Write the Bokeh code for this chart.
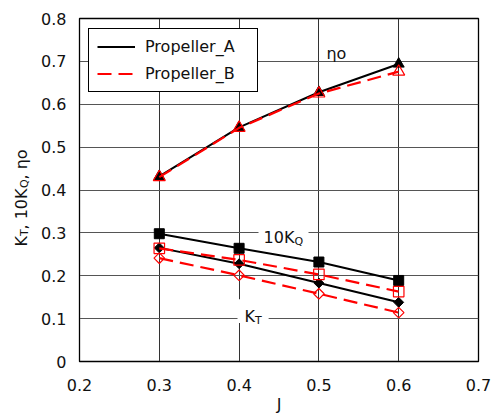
import math
from bokeh.plotting import figure
from bokeh.layouts import row
from bokeh.models import (Legend, LegendItem, Label, BoxAnnotation, FixedTicker)
from bokeh.embed import file_html
from bokeh.resources import INLINE

# ---- data ----
J = [0.3, 0.4, 0.5, 0.6]
eta_a = [0.432, 0.546, 0.628, 0.694]
eta_b = [0.430, 0.545, 0.625, 0.676]
kq10_a = [0.298, 0.264, 0.232, 0.189]
kq10_b = [0.264, 0.237, 0.203, 0.163]
kt_a = [0.265, 0.228, 0.183, 0.138]
kt_b = [0.241, 0.201, 0.158, 0.114]

x_ticks = [0.2, 0.3, 0.4, 0.5, 0.6, 0.7]
x_tick_labels = ["0.2", "0.3", "0.4", "0.5", "0.6", "0.7"]
y_ticks = [0, 0.1, 0.2, 0.3, 0.4, 0.5, 0.6, 0.7, 0.8]
y_tick_labels = ["0", "0.1", "0.2", "0.3", "0.4", "0.5", "0.6", "0.7", "0.8"]
series_names = ["Propeller_A", "Propeller_B"]

FONT = "DejaVu Sans"
FS = "16px"
TXT = "#111111"

W, H = 492, 417
LW = 38  # width of the strip that carries the y-axis title

p = figure(width=W - LW, height=H, x_range=(0.2, 0.7), y_range=(0, 0.8),
           output_backend="svg", toolbar_location=None,
           min_border_left=79 - LW, min_border_right=14, min_border_top=18,
           min_border_bottom=56)

p.outline_line_color = "black"
p.outline_line_width = 1.3
for ax in (p.xaxis[0], p.yaxis[0]):
    ax.major_label_text_font = FONT
    ax.major_label_text_font_size = FS
    ax.major_label_text_color = TXT
    ax.axis_line_color = "black"
    ax.major_tick_in = 0
    ax.major_tick_out = 0
    ax.minor_tick_in = 0
    ax.minor_tick_out = 0
p.xaxis[0].ticker = FixedTicker(ticks=x_ticks)
p.yaxis[0].ticker = FixedTicker(ticks=y_ticks)
p.xaxis[0].major_label_overrides = dict(zip(x_ticks, x_tick_labels))
p.yaxis[0].major_label_overrides = dict(zip(y_ticks, y_tick_labels))
p.xaxis[0].major_label_standoff = 17
p.yaxis[0].major_label_standoff = 13
p.xaxis[0].axis_label = "J"
p.xaxis[0].axis_label_standoff = 1
p.xaxis[0].axis_label_text_font = FONT
p.xaxis[0].axis_label_text_font_size = FS
p.xaxis[0].axis_label_text_font_style = "normal"
p.xaxis[0].axis_label_text_color = TXT

p.xgrid.ticker = FixedTicker(ticks=x_ticks)
p.ygrid.ticker = FixedTicker(ticks=y_ticks)
p.xgrid.grid_line_color = "#333333"
p.ygrid.grid_line_color = "#555555"
p.xgrid.grid_line_width = 1
p.ygrid.grid_line_width = 1

# ---- Propeller A (black, solid, filled markers) ----
la = p.line(J, eta_a, line_color="black", line_width=2)
p.line(J, kq10_a, line_color="black", line_width=2)
p.line(J, kt_a, line_color="black", line_width=2)
p.scatter(J, eta_a, marker="triangle", size=11, fill_color="black", line_color="black")
p.scatter(J, kq10_a, marker="square", size=10, fill_color="black", line_color="black")
p.scatter(J, kt_a, marker="square", size=7, angle=math.pi / 4,
          fill_color="black", line_color="black")

# ---- Propeller B (red, dashed, hollow markers) ----
DASH = "14 7"
lb = p.line(J, eta_b, line_color="red", line_width=2.2, line_dash=DASH)
p.line(J, kq10_b, line_color="red", line_width=2.2, line_dash=DASH)
p.line(J, kt_b, line_color="red", line_width=2.2, line_dash=DASH)
p.scatter(J, eta_b, marker="triangle", size=12, fill_color=None, line_color="red", line_width=1.2)
p.scatter(J, kq10_b, marker="square", size=10.5, fill_color=None, line_color="red", line_width=1.2)
p.scatter(J, kt_b, marker="square", size=7.5, angle=math.pi / 4,
          fill_color=None, line_color="red", line_width=1.2)

# ---- legend ----
legend = Legend(items=[LegendItem(label=series_names[0], renderers=[la]),
                       LegendItem(label=series_names[1], renderers=[lb])],
                location=(9, 269), padding=8, spacing=8, glyph_width=38,
                glyph_height=15, label_height=15, label_standoff=10,
                label_width=104, label_text_font=FONT, label_text_font_size=FS,
                label_text_color=TXT,
                border_line_color="black", border_line_alpha=1, border_line_width=1,
                background_fill_color="white", background_fill_alpha=1,
                margin=0)
p.add_layout(legend, "center")

# ---- in-plot annotations ----
p.add_layout(BoxAnnotation(left=0.4243, right=0.4870, bottom=0.273, top=0.324,
                           fill_color="white", fill_alpha=1, line_color=None))
p.add_layout(BoxAnnotation(left=0.398, right=0.437, bottom=0.090, top=0.145,
                           fill_color="white", fill_alpha=1, line_color=None))


def lab(fig, text, x, y, size=FS, xo=0, yo=0, angle=0, align="left", baseline="alphabetic"):
    fig.add_layout(Label(x=x, y=y, text=text, x_offset=xo, y_offset=yo, angle=angle,
                         text_font=FONT, text_font_size=size, text_color=TXT,
                         text_align=align, text_baseline=baseline))


lab(p, "ηo", 0.5095, 0.719)
lab(p, "10K", 0.4306, 0.290)
lab(p, "Q", 0.4306, 0.290, size="11px", xo=31, yo=-4)
lab(p, "K", 0.4068, 0.105)
lab(p, "T", 0.4068, 0.105, size="11px", xo=10.5, yo=-4)

# ---- y axis title strip (rotated, with subscripts) ----
yl = figure(frame_width=LW, frame_height=H, x_range=(0, LW), y_range=(0, H),
            output_backend="svg", toolbar_location=None,
            min_border=0, min_border_left=0, min_border_right=0,
            min_border_top=0, min_border_bottom=0)
yl.axis.visible = False
yl.grid.visible = False
yl.outline_line_color = None
ax_x, ax_y = 21, H - 228
r = math.pi / 2
lab(yl, "K", ax_x, ax_y, angle=r)
lab(yl, "T", ax_x, ax_y, size="11px", angle=r, xo=3, yo=10.5)
lab(yl, ", 10K", ax_x, ax_y, angle=r, yo=17)
lab(yl, "Q", ax_x, ax_y, size="11px", angle=r, xo=3, yo=58.5)
lab(yl, ", ηo", ax_x, ax_y, angle=r, yo=67)

layout = row(yl, p, spacing=0)
open("out.html", "w").write(file_html(layout, INLINE))
